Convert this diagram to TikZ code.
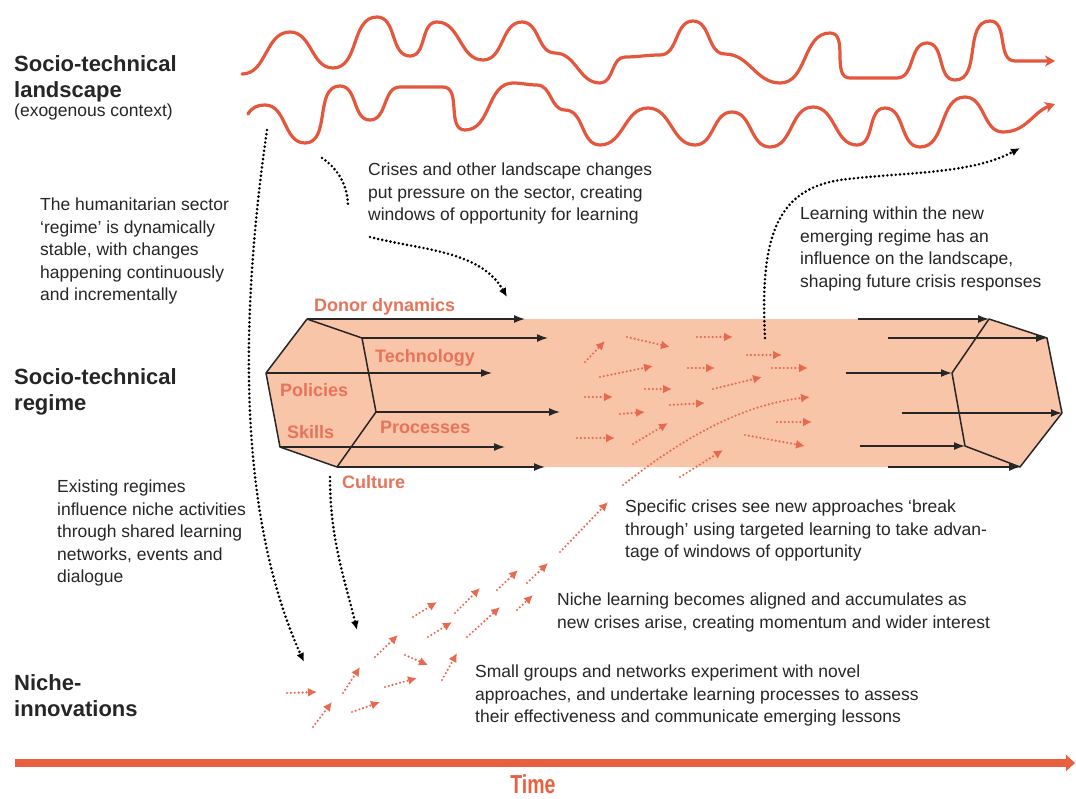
\documentclass[tikz,border=0pt]{standalone}
\usepackage{fontspec}
\setmainfont{Liberation Sans}
\usetikzlibrary{arrows.meta}
\definecolor{wavered}{HTML}{E4573D}
\definecolor{regimefill}{HTML}{F9C5A8}
\definecolor{labelorange}{HTML}{E6735A}
\definecolor{seedorange}{HTML}{E8694E}
\definecolor{timered}{HTML}{E8603F}
\definecolor{inkgrey}{HTML}{262626}

\begin{document}
\begin{tikzpicture}[x=1pt, y=-1pt,
    head/.style={anchor=north west, inner sep=0pt, align=left, text=inkgrey,
      font=\bfseries\fontsize{22}{26}\selectfont},
    note/.style={anchor=north west, inner sep=0pt, align=left, text=inkgrey,
      font=\fontsize{17.5}{22.4}\selectfont},
    factor/.style={anchor=base west, inner sep=0pt, text=labelorange,
      font=\bfseries\fontsize{18}{20}\selectfont},
    wave/.style={draw=wavered, line width=3.2pt, line cap=round, out=0, in=180,
      -{Stealth[length=10pt,width=11pt,inset=3pt]}},
    flow/.style={draw=inkgrey, line width=1.5pt, -{Latex[length=11pt,width=8pt]}},
    hexline/.style={draw=inkgrey, line width=1.5pt, line join=round},
    dotline/.style={draw=black, line width=2.9pt, line cap=round, dash pattern=on 0pt off 4.2pt},
    pressure/.style={dotline, -{Latex[length=9pt,width=8pt]}},
    seed/.style={seedorange, line width=2.4pt, line cap=round, dash pattern=on 0pt off 3.9pt,
      -{Latex[length=9pt,width=9pt]}},
    timeline/.style={draw=timered, line width=8pt, -{Triangle[length=9pt,width=16pt]}}]

  \useasboundingbox[fill=white] (0,0) rectangle (1076,798);

  % landscape waves
  \draw[wave] (242,74) to (290,32) to (333,68) to (377,17) to (410,56) to (437,22)
    to (483,60) to (522,22) to (555,53) to (600,83) to (625,57) to (660,55)
    to (693,21) to (725,54) to (780,83) to (830,33) to (850,78) -- (897,78)
    to (927,43) to (955,80) to (990,21) to (1015,61) -- (1055,61);
  \draw[wave] (248,114) to[out=60] (265,105) to (305,143) to (340,86) to (370,120)
    to (400,87) to (443,87) to (465,130) to (513,83) to (537,85) to (565,110)
    to (600,145) to (648,108) to (695,145) to (732,112) to (770,147) to (813,107)
    to (857,145) to (885,108) to (920,147) to (965,97) to (1003,132)
    to[in=200] (1055,104);

  % regime block
  \coordinate (l1) at (307,319);
  \coordinate (l2) at (362,338);
  \coordinate (l3) at (376,412);
  \coordinate (l4) at (337,467);
  \coordinate (l5) at (280,447);
  \coordinate (l6) at (266,373);
  \coordinate (r1) at (989,319);
  \coordinate (r2) at (1047,338);
  \coordinate (r3) at (1062,413);
  \coordinate (r4) at (1020,467);
  \coordinate (r5) at (965,446);
  \coordinate (r6) at (952,373);

  \fill[regimefill] (l1) -- (r1) -- (r2) -- (r3) -- (r4) -- (l4) -- (l5) -- (l6) -- cycle;

  \draw[flow] (l1) -- +(218,0);
  \draw[flow] (l2) -- +(186,0);
  \draw[flow] (l6) -- +(226,0);
  \draw[flow] (l3) -- +(184,0);
  \draw[flow] (l5) -- +(225,0);
  \draw[flow] (l4) -- +(208,0);
  \draw[flow] ([xshift=-131pt]r1) -- (r1);
  \draw[flow] ([xshift=-159pt]r2) -- (r2);
  \draw[flow] ([xshift=-106pt]r6) -- (r6);
  \draw[flow] ([xshift=-160pt]r3) -- (r3);
  \draw[flow] ([xshift=-105pt]r5) -- (r5);
  \draw[flow] ([xshift=-132pt]r4) -- (r4);

  \draw[hexline] (l1) -- (l2) -- (l3) -- (l4) -- (l5) -- (l6) -- cycle;
  \draw[hexline] (r1) -- (r2) -- (r3) -- (r4) -- (r5) -- (r6) -- cycle;

  \node[factor] (donor) at (314,311) {Donor dynamics};
  \node[factor] (tech) at (375,362) {Technology};
  \node[factor] (policies) at (280,396) {Policies};
  \node[factor] (skills) at (287,438) {Skills};
  \node[factor] (processes) at (380,433) {Processes};
  \node[factor] (culture) at (342,488) {Culture};

  % learning arrows
  \begin{scope}[seed]
    \path (585,362) edge (605,341)
          (627,337) edge (670,347)
          (697,337) edge (733,337)
          (600,377) edge (653,366)
          (688,368) edge (715,368)
          (747,355) edge (782,355)
          (772,368) edge (808,368)
          (645,389) edge (672,389)
          (713,389) edge (762,377)
          (585,397) edge (613,397)
          (670,405) edge (705,403)
          (620,414) edge (645,412)
          (777,422) edge (812,422)
          (577,438) edge (615,438)
          (633,444) edge (668,423)
          (745,435) edge (805,446)
          (680,477) edge (723,450)
          (560,552) edge (608,502)
          (287,693) edge (317,692)
          (313,727) edge (332,702)
          (343,693) edge (360,667)
          (352,712) edge (380,702)
          (375,657) edge (398,635)
          (385,687) edge (417,678)
          (405,655) edge (428,665)
          (442,680) edge (457,653)
          (413,617) edge (437,602)
          (428,637) edge (452,622)
          (455,613) edge (480,588)
          (467,637) edge (500,607)
          (497,590) edge (518,570)
          (517,610) edge (533,595)
          (527,583) edge (548,563);
    \draw (623,485) .. controls (680,440) and (740,405) .. (810,397);
  \end{scope}

  % pressure and influence
  \coordinate (landfoot) at (267,130);
  \coordinate (nichetop) at (304,662);
  \draw[pressure] (landfoot) .. controls (238,330) and (240,520) .. (nichetop);
  \draw[dotline] (322,158) .. controls (340,170) and (348,188) .. (348,207);
  \draw[pressure] (370,237) .. controls (420,250) and (480,250) .. (507,297);
  \draw[pressure] (765,338) .. controls (760,240) and (775,190) .. (840,180)
    .. controls (900,172) and (970,175) .. (1020,148);
  \draw[pressure] (330,477) .. controls (330,540) and (345,580) .. (357,630);

  % levels
  \node[head] (landhead) at (14,55) {Socio-technical\\landscape};
  \node[note] (landctx) at (14,104) {(exogenous context)};
  \node[head] (regimehead) at (14,368) {Socio-technical\\regime};
  \node[head] (nichehead) at (14,674) {Niche-\\innovations};

  % notes
  \node[note] (stablenote) at (40,198) {The humanitarian sector\\`regime' is dynamically\\stable, with changes\\happening continuously\\and incrementally};
  \node[note] (crisesnote) at (368,163) {Crises and other landscape changes\\put pressure on the sector, creating\\windows of opportunity for learning};
  \node[note] (learnnote) at (800,207) {Learning within the new\\emerging regime has an\\influence on the landscape,\\shaping future crisis responses};
  \node[note] (existnote) at (57,480) {Existing regimes\\influence niche activities\\through shared learning\\networks, events and\\dialogue};
  \node[note] (breaknote) at (625,500) {Specific crises see new approaches `break\\through' using targeted learning to take advan-\\tage of windows of opportunity};
  \node[note] (alignnote) at (557,593) {Niche learning becomes aligned and accumulates as\\new crises arise, creating momentum and wider interest};
  \node[note] (smallnote) at (475,665) {Small groups and networks experiment with novel\\approaches, and undertake learning processes to assess\\their effectiveness and communicate emerging lessons};

  % time axis
  \coordinate (tstart) at (15,763);
  \coordinate (tend) at (1075,763);
  \draw[timeline] (tstart) -- (tend);
  \node[text=timered, inner sep=0pt] (time) at (533,784)
    {\scalebox{0.75}[1]{\bfseries\fontsize{26}{26}\selectfont Time}};
\end{tikzpicture}
\end{document}
